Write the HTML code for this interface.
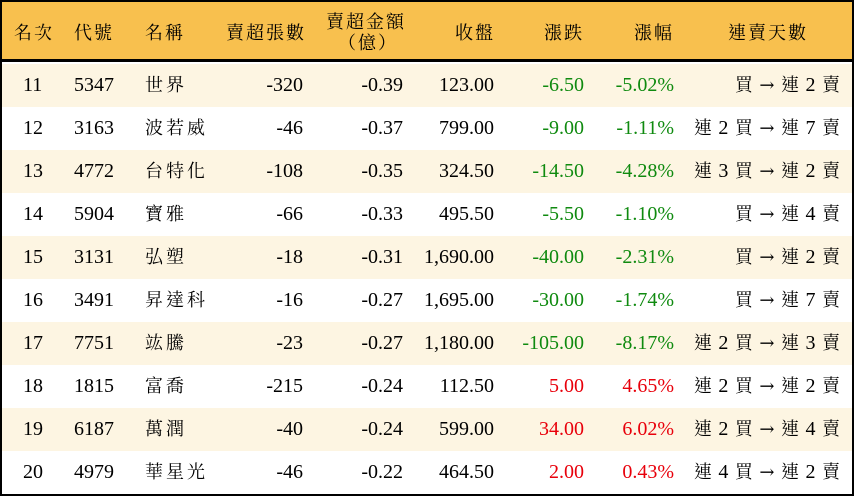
<!DOCTYPE html>
<html><head><meta charset="utf-8"><style>
*{margin:0;padding:0;box-sizing:border-box}
body{width:854px;height:496px;overflow:hidden;background:#fff;font-family:"Liberation Serif","Noto Serif CJK TC",serif;font-size:20px;color:#000}
#f{position:absolute;left:0;top:0;width:854px;height:496px;border:2px solid #000}
.h{position:absolute;left:0;top:0;width:850px;height:60px;background:#f8c04e;border-bottom:3px solid #000;font-size:18px}
.r{position:absolute;left:0;width:850px;height:43px}
.c{position:absolute;top:0;line-height:43px;white-space:nowrap}
.hc{position:absolute;white-space:nowrap;line-height:20px;letter-spacing:2px}
.R{text-align:right}
.g{color:#0f8a0f}.d{color:#e8000b}
.cj{letter-spacing:3px;font-size:18px}
.z{font-size:18px}
.a{font-family:"DejaVu Serif",serif;font-size:18px}
.w{word-spacing:1.5px}
</style></head><body><div id="f">
<div class="h">
<div class="hc" style="left:12px;top:21px">名次</div>
<div class="hc" style="left:72px;top:21px">代號</div>
<div class="hc" style="left:143px;top:21px">名稱</div>
<div class="hc" style="left:224px;top:21px">賣超張數</div>
<div class="hc" style="left:324px;top:10px">賣超金額</div>
<div class="hc" style="left:336px;top:31px">（億）</div>
<div class="hc" style="left:453px;top:21px">收盤</div>
<div class="hc" style="left:542px;top:21px">漲跌</div>
<div class="hc" style="left:632px;top:21px">漲幅</div>
<div class="hc" style="left:726px;top:21px">連賣天數</div>
</div>
<div id="rows"></div>
</div>
<script>
var d=[["11","5347","世界","-320","-0.39","123.00","-6.50","-5.02%","買 → 連 2 賣",1],
["12","3163","波若威","-46","-0.37","799.00","-9.00","-1.11%","連 2 買 → 連 7 賣",1],
["13","4772","台特化","-108","-0.35","324.50","-14.50","-4.28%","連 3 買 → 連 2 賣",1],
["14","5904","寶雅","-66","-0.33","495.50","-5.50","-1.10%","買 → 連 4 賣",1],
["15","3131","弘塑","-18","-0.31","1,690.00","-40.00","-2.31%","買 → 連 2 賣",1],
["16","3491","昇達科","-16","-0.27","1,695.00","-30.00","-1.74%","買 → 連 7 賣",1],
["17","7751","竑騰","-23","-0.27","1,180.00","-105.00","-8.17%","連 2 買 → 連 3 賣",1],
["18","1815","富喬","-215","-0.24","112.50","5.00","4.65%","連 2 買 → 連 2 賣",0],
["19","6187","萬潤","-40","-0.24","599.00","34.00","6.02%","連 2 買 → 連 4 賣",0],
["20","4979","華星光","-46","-0.22","464.50","2.00","0.43%","連 4 買 → 連 2 賣",0]];
var h="";
d.forEach(function(r,i){
var cls=r[9]?"g":"d";
var s=r[8].replace(/([^\s\d→]+)/g,'<span class="z">$1</span>').replace('→','<span class="a">→</span>');
h+='<div class="r" style="top:'+(62+i*43)+'px;background:'+(i%2==0?'#fdf5e2':'#fff')+'">'+
'<div class="c" style="left:21px">'+r[0]+'</div>'+
'<div class="c" style="left:72px">'+r[1]+'</div>'+
'<div class="c cj" style="left:143px">'+r[2]+'</div>'+
'<div class="c R" style="right:549px">'+r[3]+'</div>'+
'<div class="c R" style="right:449px">'+r[4]+'</div>'+
'<div class="c R" style="right:358px">'+r[5]+'</div>'+
'<div class="c R '+cls+'" style="right:268px">'+r[6]+'</div>'+
'<div class="c R '+cls+'" style="right:178px">'+r[7]+'</div>'+
'<div class="c R w" style="right:12px">'+s+'</div></div>';
});
document.getElementById("rows").innerHTML=h;
</script>
</body></html>
